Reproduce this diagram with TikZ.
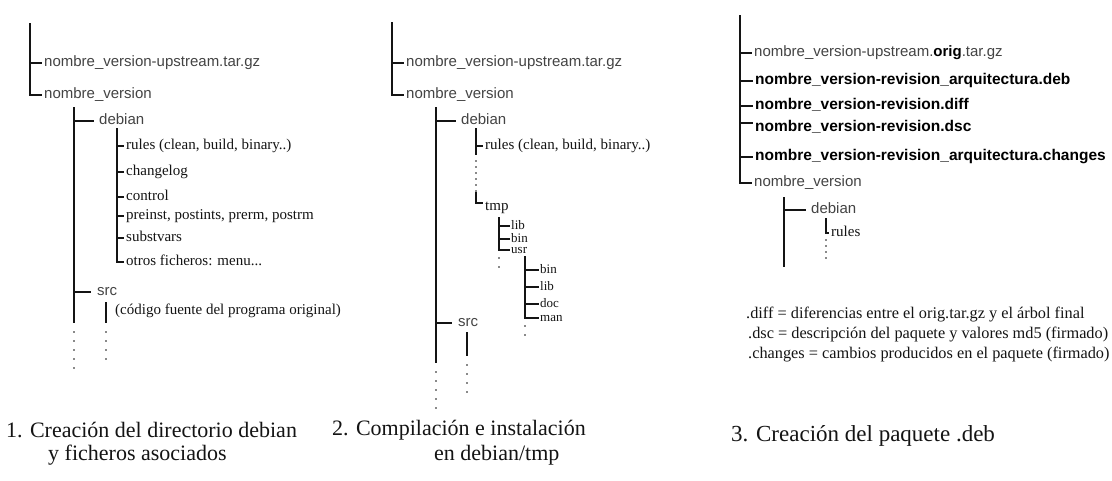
\documentclass[tikz,border=0pt]{standalone}
\usepackage{fontspec}
\setmainfont{Liberation Serif}
\newfontfamily\treesans{Liberation Sans}
\usepackage{xcolor}
\usepackage{tikz}
\definecolor{ink}{HTML}{141414}
\definecolor{soft}{HTML}{444444}
\tikzset{
  treeLine/.style={draw=ink, line width=1.6pt},
  dotCol/.style={draw=ink, line width=1.9pt, line cap=round, dash pattern=on 0pt off 9pt},
  dotSeg/.style={dotCol, dash pattern=on 0pt off 6pt},
  dirText/.style={anchor=west, inner sep=2pt, text=soft, font=\treesans\fontsize{15}{16}\selectfont, text height=10pt, text depth=2.5pt},
  pkgText/.style={dirText, text=black, font=\treesans\bfseries\fontsize{15.5}{17}\selectfont},
  fileText/.style={anchor=west, inner sep=2pt, text=ink, font=\fontsize{15}{17}\selectfont, text height=10pt, text depth=3pt},
  fileTight/.style={fileText, inner sep=1pt, font=\fontsize{13}{14}\selectfont, text height=6.5pt, text depth=0pt},
  noteText/.style={anchor=west, inner sep=0pt, text=ink, font=\fontsize{16.3}{18}\selectfont},
  capText/.style={anchor=west, inner sep=0pt, text=ink, font=\fontsize{22}{24}\selectfont}
}

\begin{document}
\begin{tikzpicture}[x=1pt, y=-1pt]
  \useasboundingbox[fill=white] (0,0) rectangle (1112,480);

  % 1. directorio debian
  \coordinate (rootA) at (30,23);
  \node[dirText] (tarA) at (42,63) {nombre\_version-upstream.tar.gz};
  \node[dirText] (verA) at (42,95) {nombre\_version};
  \draw[treeLine] (rootA) |- (verA.west);
  \draw[treeLine] (rootA |- tarA.west) -- (tarA.west);

  \coordinate (trunkA) at (74,107);
  \coordinate (trunkAend) at (74,323);
  \node[dirText] (debA) at (97,121) {debian};
  \node[dirText] (srcA) at (95,292) {src};
  \draw[treeLine] (trunkA) -- (trunkAend);
  \draw[treeLine] (trunkA |- debA.west) -- ([xshift=-3pt]debA.west);
  \draw[treeLine] (trunkA |- srcA.west) -- ([xshift=-4pt]srcA.west);
  \draw[dotCol] (trunkAend) ++(0,9) -- ++(0,36);

  \coordinate (debTopA) at (117,128);
  \foreach \y/\t [count=\i] in {146/{rules (clean, build, binary..)}, 172/changelog,
      197/control, 216/{preinst, postints, prerm, postrm}, 238/substvars,
      262/{otros ficheros: menu...}}{
    \node[fileText] (fileA\i) at (124,\y) {\t};
    \draw[treeLine] (debTopA |- fileA\i.west) -- (fileA\i.west);
  }
  \draw[treeLine] (debTopA) |- (fileA6.west);

  \coordinate (srcTopA) at (106,302);
  \coordinate (srcEndA) at (106,323);
  \node[fileText] (codeA) at (113,311) {(código fuente del programa original)};
  \draw[treeLine] (srcTopA) -- (srcEndA);
  \draw[dotCol] (srcEndA) ++(0,9) -- ++(0,27);

  \node[capText] (capA1) at (6,430) {1. Creación del directorio debian};
  \node[capText] (capA2) at (48,455) {y ficheros asociados};

  % 2. compilacion en debian/tmp
  \coordinate (rootB) at (392,22);
  \node[dirText] (tarB) at (404,63) {nombre\_version-upstream.tar.gz};
  \node[dirText] (verB) at (404,95) {nombre\_version};
  \draw[treeLine] (rootB) |- (verB.west);
  \draw[treeLine] (rootB |- tarB.west) -- (tarB.west);

  \coordinate (trunkB) at (436,107);
  \coordinate (trunkBend) at (436,363);
  \node[dirText] (debB) at (459,121) {debian};
  \node[dirText] (srcB) at (456,323) {src};
  \draw[treeLine] (trunkB) -- (trunkBend);
  \draw[treeLine] (trunkB |- debB.west) -- ([xshift=-3pt]debB.west);
  \draw[treeLine] (trunkB |- srcB.west) -- ([xshift=-4pt]srcB.west);
  \draw[dotCol] (trunkBend) ++(0,9) -- ++(0,36);

  \coordinate (debTopB) at (476,128);
  \coordinate (debGapB) at (476,155);
  \node[fileText] (rulesB) at (483,146) {rules (clean, build, binary..)};
  \node[fileText] (tmpB) at (483,207) {tmp};
  \draw[treeLine] (debTopB) -- (debGapB);
  \draw[treeLine] (debTopB |- rulesB.west) -- (rulesB.west);
  \draw[dotSeg] (debGapB) ++(0,6) -- ++(0,30);
  \draw[treeLine] (debGapB) ++(0,37) |- ([yshift=4pt]tmpB.west);

  \coordinate (tmpTopB) at (499,217);
  \foreach \y/\t [count=\i] in {226/lib, 239/bin, 250/usr}{
    \node[fileTight] (tmpF\i) at (510,\y) {\t};
    \draw[treeLine] (tmpTopB |- tmpF\i.west) -- (tmpF\i.west);
  }
  \draw[treeLine] (tmpTopB) |- (tmpF3.west);
  \draw[dotCol] (tmpTopB |- tmpF3.west) ++(0,8) -- ++(0,9);

  \coordinate (usrTopB) at (525,256);
  \foreach \y/\t [count=\i] in {270/bin, 287/lib, 304/doc, 318/man}{
    \node[fileTight] (usrF\i) at (539,\y) {\t};
    \draw[treeLine] (usrTopB |- usrF\i.west) -- (usrF\i.west);
  }
  \draw[treeLine] (usrTopB) |- (usrF4.west);
  \draw[dotCol] (usrTopB |- usrF4.west) ++(0,8) -- ++(0,9);

  \coordinate (srcTopB) at (467,332);
  \coordinate (srcEndB) at (467,356);
  \draw[treeLine] (srcTopB) -- (srcEndB);
  \draw[dotCol] (srcEndB) ++(0,9) -- ++(0,27);

  \node[capText] (capB1) at (332,430) {2. Compilación e instalación};
  \node[capText] (capB2) at (434,455) {en debian/tmp};

  % 3. paquete .deb
  \coordinate (rootC) at (740,15);
  \node[dirText] (origC) at (752,53) {nombre\_version-upstream.\textcolor{black}{\bfseries orig}.tar.gz};
  \node[pkgText] (debFileC) at (753,81) {nombre\_version-revision\_arquitectura.deb};
  \node[pkgText] (diffC) at (753,106) {nombre\_version-revision.diff};
  \node[pkgText] (dscC) at (753,128) {nombre\_version-revision.dsc};
  \node[pkgText] (chgC) at (753,157) {nombre\_version-revision\_arquitectura.changes};
  \node[dirText] (verC) at (752,183) {nombre\_version};
  \draw[treeLine] (rootC) |- (verC.west);
  \foreach \f in {origC, debFileC, diffC, chgC}
    \draw[treeLine] (rootC |- \f.west) -- (\f.west);
  \draw[treeLine] (rootC |- dscC.west) ++(0,-5) -- ([yshift=5pt]dscC.west);

  \coordinate (trunkC) at (784,197);
  \coordinate (trunkCend) at (784,267);
  \node[dirText] (debianC) at (809,210) {debian};
  \draw[treeLine] (trunkC) -- (trunkCend);
  \draw[treeLine] (trunkC |- debianC.west) -- ([xshift=-3pt]debianC.west);

  \coordinate (debTopC) at (826,218);
  \node[fileText] (rulesC) at (829,233) {rules};
  \draw[treeLine] (debTopC) -- (debTopC |- rulesC.west) -- (rulesC.west);
  \draw[dotSeg] (debTopC |- rulesC.west) ++(0,7) -- ++(0,24);

  \node[noteText] (noteDiff) at (746,315) {.diff = diferencias entre el orig.tar.gz y el árbol final};
  \node[noteText] (noteDsc) at (748,335) {.dsc = descripción del paquete y valores md5 (firmado)};
  \node[noteText] (noteChg) at (748,355) {.changes = cambios producidos en el paquete (firmado)};

  \node[capText, font=\fontsize{23}{25}\selectfont] (capC) at (731,436) {3. Creación del paquete .deb};
\end{tikzpicture}
\end{document}
